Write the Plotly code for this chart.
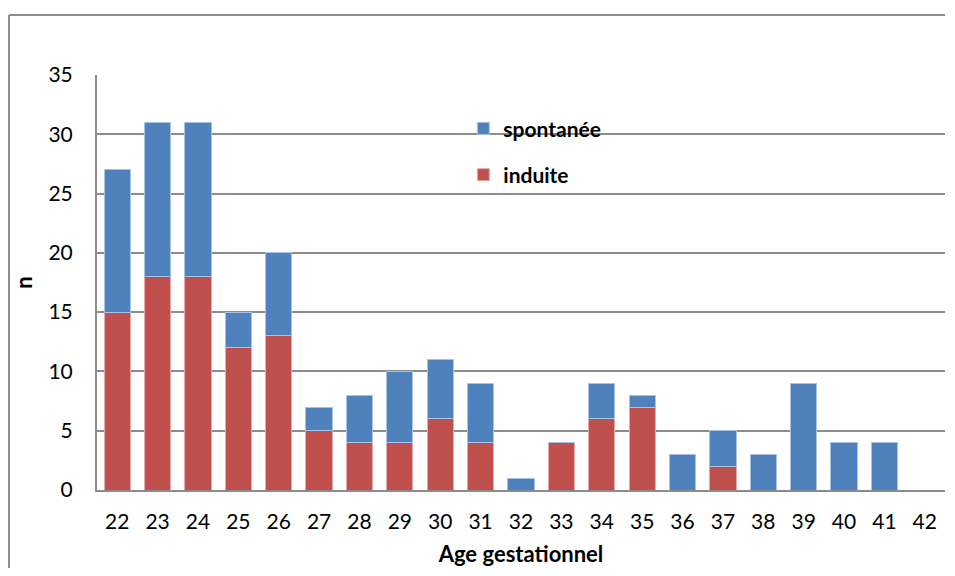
import plotly.graph_objects as go

ages = [str(a) for a in range(22, 43)]
induite = [15, 18, 18, 12, 13, 5, 4, 4, 6, 4, 0, 4, 6, 7, 0, 2, 0, 0, 0, 0, 0]
spontanee = [12, 13, 13, 3, 7, 2, 4, 6, 5, 5, 1, 0, 3, 1, 3, 3, 3, 9, 4, 4, 0]

FONT = "Lato, 'Open Sans', sans-serif"
GRID = "#8c8c8c"

fig = go.Figure()
fig.add_trace(go.Bar(x=ages, y=induite, name="induite", legendrank=2, legendgroup="b",
                     marker=dict(color="#c0504d", line=dict(color="#e6a9a8", width=1))))
fig.add_trace(go.Bar(x=ages, y=spontanee, name="spontanée", legendrank=1, legendgroup="a",
                     marker=dict(color="#4f81bd", line=dict(color="#a9c3e6", width=1))))

fig.update_layout(
    barmode="stack",
    bargap=0.35,
    width=939, height=560,
    margin=dict(l=89, r=2, t=67, b=78),
    paper_bgcolor="white", plot_bgcolor="white",
    font=dict(family=FONT, color="black", size=21),
    legend=dict(x=0.432, y=0.92, xanchor="left", yanchor="top",
                traceorder="grouped", tracegroupgap=16,
                font=dict(size=21, family=FONT, weight="bold"),
                bgcolor="rgba(0,0,0,0)", itemwidth=30),
    xaxis=dict(type="category", showline=True, linecolor=GRID, linewidth=2,
               ticks="", ticklabelstandoff=12, tickfont=dict(size=21),
               title=dict(text="<b>Age gestationnel</b>", font=dict(size=22), standoff=14)),
    yaxis=dict(range=[0, 35], dtick=5, showline=True, linecolor=GRID, linewidth=2,
               showgrid=True, gridcolor=GRID, gridwidth=1.5, zeroline=False,
               ticks="", ticklabelstandoff=18, tickfont=dict(size=21),
               title=dict(text="<b>n</b>", font=dict(size=22), standoff=10)),
    shapes=[
        dict(type="line", xref="paper", yref="paper",
             x0=-0.1038, x1=-0.1038, y0=-0.2, y1=1.1446,
             line=dict(color=GRID, width=2), layer="below"),
        dict(type="line", xref="paper", yref="paper",
             x0=-0.1038, x1=1.0, y0=1.1446, y1=1.1446,
             line=dict(color=GRID, width=2), layer="below"),
    ],
)

fig.write_html("out.html")
